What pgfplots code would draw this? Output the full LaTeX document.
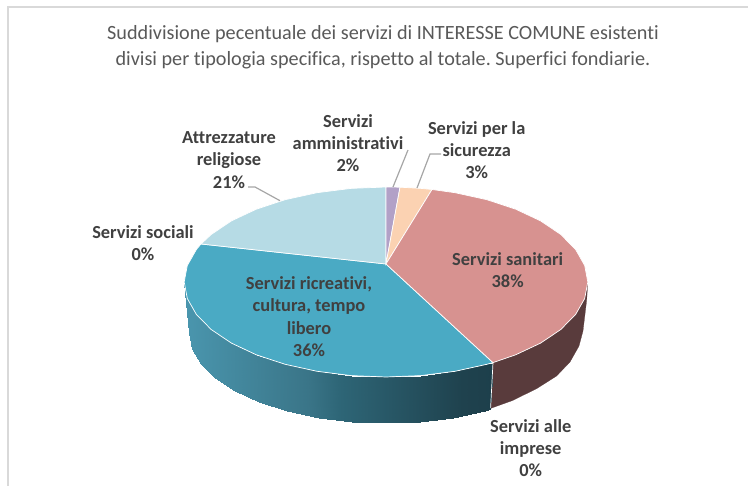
\documentclass[border=0pt]{standalone}
\usepackage{pgfplots}
\usepackage{fontspec}
\setmainfont{Carlito}[Ligatures=NoCommon]
\pgfplotsset{compat=1.18}
\usepgfplotslibrary{patchplots}
\definecolor{rosa}{HTML}{D79290}
\definecolor{azz}{HTML}{4AAAC4}
\definecolor{cel}{HTML}{B6DBE5}
\definecolor{lav}{HTML}{B2A1C7}
\definecolor{pes}{HTML}{FBD2B2}
\definecolor{rosawall}{HTML}{593B3C}
\definecolor{txt}{HTML}{404040}
\definecolor{tit}{HTML}{595959}
\definecolor{frame}{HTML}{D9D9D9}
\definecolor{lead}{HTML}{A6A6A6}
\tikzset{labl/.style={font=\fontsize{18.4}{22.3}\selectfont\bfseries, text=txt, align=center, inner sep=0pt}}
\frenchspacing
\begin{document}
\begin{tikzpicture}
\begin{axis}[
  scale only axis, width=748pt, height=486pt,
  xmin=0, xmax=748, ymin=0, ymax=486, y dir=reverse,
  hide axis, clip=false,
  colormap={parete}{rgb255(0cm)=(74,150,174); rgb255(4cm)=(58,117,136); rgb255(5cm)=(46,102,119); rgb255(9cm)=(31,66,78); rgb255(10cm)=(29,63,75)},
  point meta min=184, point meta max=493,
]
\path[use as bounding box] (axis cs:0,0) rectangle (axis cs:748,486);
% frame
\addplot[frame, line width=1.8pt] coordinates {(8,486)(8,7)(748,7)};
% rose wall
\addplot[fill=rosawall, draw=rosawall, line width=0.2pt] coordinates {
 (493,362.6)(515.7,354.8)(540.6,343.1)(560.8,329.5)(575.6,314.5)(584.7,298.5)(587.8,282)
 (586.7,300)(583,331)(579,346)(570,362)(556.6,376)(536.9,388.5)(512.6,400.5)(490.4,408.5)} -- cycle;
% blue wall
\addplot[patch, patch type=rectangle, shader=interp, point meta=explicit] coordinates {
 (184.2,282)[184] (187.3,298.5)[187] (192,348.6)[192] (189,333)[189]
 (187.3,298.5)[187] (196.4,314.5)[196] (200.9,363.8)[201] (192,348.6)[192]
 (196.4,314.5)[196] (211.2,329.5)[211] (215.4,378)[215] (200.9,363.8)[201]
 (211.2,329.5)[211] (231.4,343.1)[231] (235.1,390.9)[235] (215.4,378)[215]
 (231.4,343.1)[231] (256.3,354.8)[256] (259.4,401.9)[259] (235.1,390.9)[235]
 (256.3,354.8)[256] (285.1,364.3)[285] (287.5,410.9)[287] (259.4,401.9)[259]
 (285.1,364.3)[285] (317,371.3)[317] (318.6,417.6)[318] (287.5,410.9)[287]
 (317,371.3)[317] (351,375.6)[351] (351.8,421.6)[352] (318.6,417.6)[318]
 (351,375.6)[351] (386,377)[386] (386,423)[386] (351.8,421.6)[352]
 (386,377)[386] (421,375.6)[421] (420.2,421.6)[420] (386,423)[386]
 (421,375.6)[421] (455,371.3)[455] (453.4,417.6)[453] (420.2,421.6)[420]
 (455,371.3)[455] (486.9,364.3)[487] (484.5,410.9)[484] (453.4,417.6)[453]
 (486.9,364.3)[487] (493,362.6)[493] (490.4,409.3)[490] (484.5,410.9)[484]
};
\addplot[white, line width=0.7pt] coordinates {(493,362.6)(490.6,408)};
% top face
\addplot[fill=azz, draw=white, line width=0.7pt] coordinates {
 (386,264)(493,362.6)(486.9,364.3)(455,371.3)(421,375.6)(386,377)(351,375.6)(317,371.3)(285.1,364.3)
 (256.3,354.8)(231.4,343.1)(211.2,329.5)(196.4,314.5)(187.3,298.5)(184.2,282)(187.3,265.5)(196.4,249.5)(201,244)} -- cycle;
\addplot[fill=cel, draw=white, line width=0.7pt] coordinates {
 (386,264)(201,244)(211.2,234.5)(231.4,220.9)(256.3,209.2)(285.1,199.7)(317,192.7)(351,188.4)(386,187)} -- cycle;
\addplot[fill=lav, draw=white, line width=0.7pt] coordinates {
 (386,264)(386,187)(400,187.2)} -- cycle;
\addplot[fill=pes, draw=white, line width=0.7pt] coordinates {
 (386,264)(400,187.2)(421,188.4)(432,189.5)} -- cycle;
\addplot[fill=rosa, draw=white, line width=0.7pt] coordinates {
 (386,264)(432,189.5)(455,192.7)(486.9,199.7)(515.7,209.2)(540.6,220.9)(560.8,234.5)(575.6,249.5)(584.7,265.5)
 (587.8,282)(584.7,298.5)(575.6,314.5)(560.8,329.5)(540.6,343.1)(515.7,354.8)(493,362.6)} -- cycle;
% leader lines
\addplot[lead, line width=1.2pt] coordinates {(408,150)(393,187)};
\addplot[lead, line width=1.2pt] coordinates {(441,154)(430,154)(417,188)};
\addplot[lead, line width=1.2pt] coordinates {(248,187)(255,187)(280,200.7)};
% title
\node[font=\fontsize{20.2}{26}\selectfont, text=tit, align=center, inner sep=0pt] at (axis cs:383,47.5)
 {Suddivisione pecentuale dei servizi di INTERESSE COMUNE esistenti\\divisi per tipologia specifica, rispetto al totale. Superfici fondiarie.};
% labels
\node[labl] at (axis cs:348,143) {Servizi\\amministrativi\\2\%};
\node[labl] at (axis cs:476.7,150) {Servizi per la\\sicurezza\\3\%};
\node[labl] at (axis cs:229,160) {Attrezzature\\religiose\\21\%};
\node[labl] at (axis cs:143,243) {Servizi sociali\\0\%};
\node[labl] at (axis cs:507.7,270) {Servizi sanitari\\38\%};
\node[labl] at (axis cs:309,316.5) {Servizi ricreativi,\\cultura, tempo\\libero\\36\%};
\node[labl] at (axis cs:530.7,448) {Servizi alle\\imprese\\0\%};
\end{axis}
\end{tikzpicture}
\end{document}
